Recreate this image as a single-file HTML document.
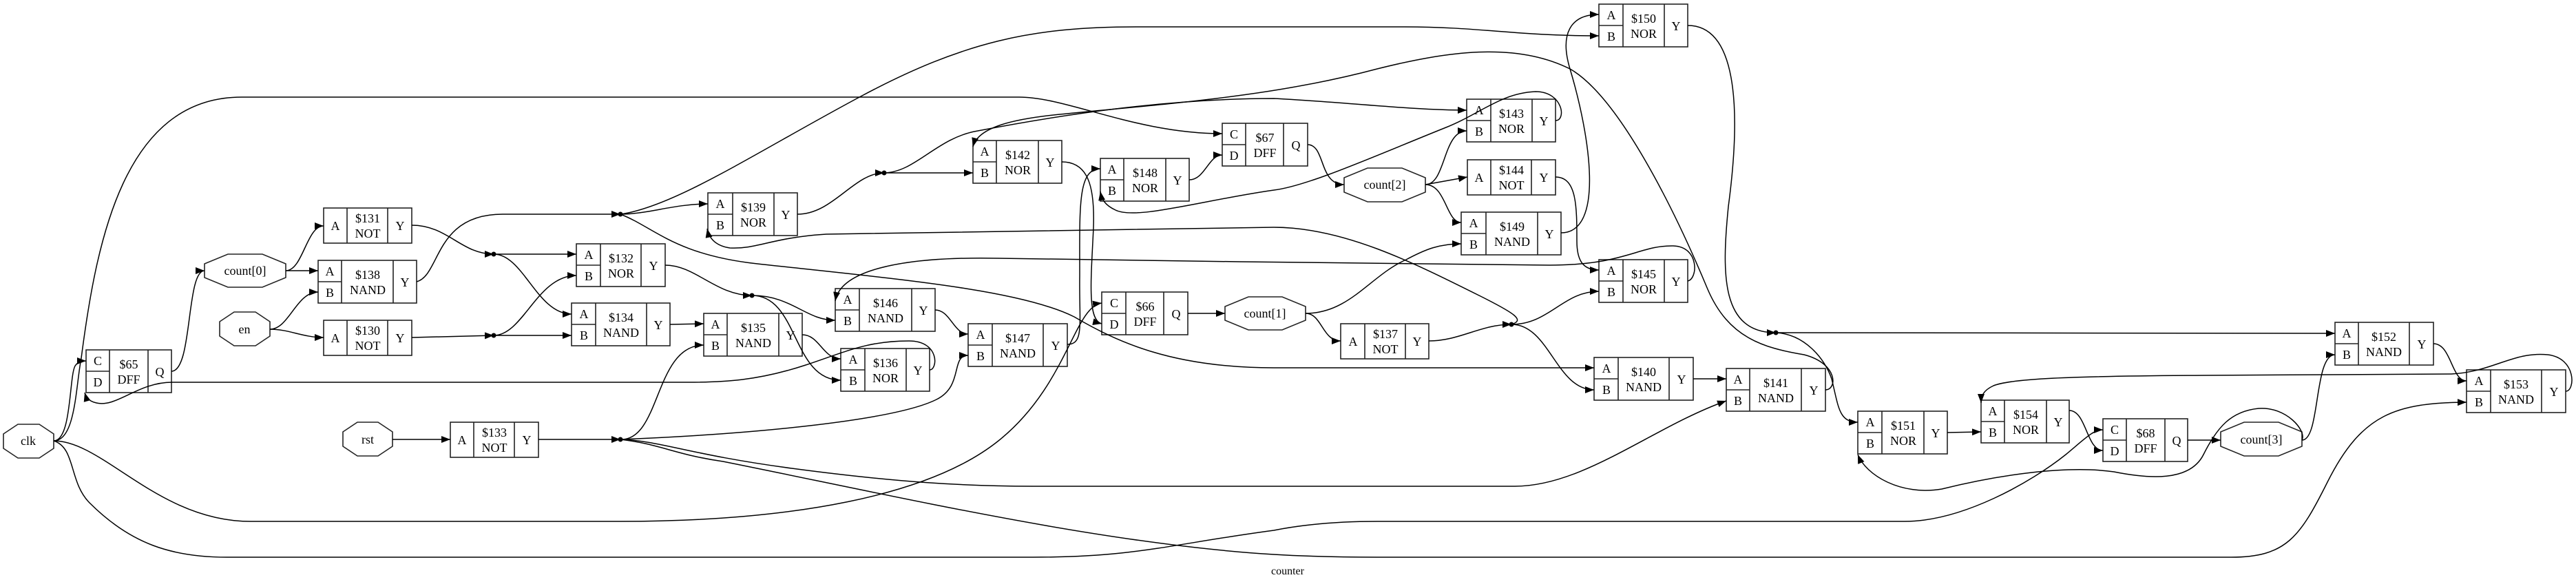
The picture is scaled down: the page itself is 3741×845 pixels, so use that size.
<!DOCTYPE html>
<html><head><meta charset="utf-8"><style>
html,body{margin:0;padding:0;background:#fff;}
svg{display:block;}
text{font-family:"Liberation Serif",serif;font-size:18px;fill:#000;text-anchor:middle;}
.b{fill:none;stroke:#222;stroke-width:1.6;}
.e{fill:none;stroke:#000;stroke-width:1.5;marker-end:url(#ar);}
.n{fill:none;stroke:#000;stroke-width:1.5;}
</style></head><body>
<svg width="3741" height="845" viewBox="0 0 3741 845" xmlns="http://www.w3.org/2000/svg">
<defs><marker id="ar" markerUnits="userSpaceOnUse" markerWidth="14" markerHeight="12" refX="13" refY="5" orient="auto"><path d="M0,0 L13,5 L0,10 Z" fill="#000"/></marker></defs>

<!-- octagons -->
<g class="b">
<polygon points="26,616 57,616 78,630 78,651 57,665 26,665 5,651 5,630"/>
<polygon points="340,453 371,453 392,467 392,488 371,502 340,502 319,488 319,467"/>
<polygon points="519,613 549,613 570,627 570,648 549,662 519,662 498,648 498,627"/>
<polygon points="331,369 381,369 415,383 415,403 381,417 331,417 297,403 297,383"/>
<polygon points="1813,431 1862,431 1896,445 1896,465 1862,479 1813,479 1779,465 1779,445"/>
<polygon points="1986,244 2036,244 2070,258 2070,279 2036,293 1986,293 1952,279 1952,258"/>
<polygon points="3259,613 3309,613 3343,627 3343,648 3309,662 3259,662 3225,648 3225,627"/>
</g>
<text x="41" y="646">clk</text>
<text x="355" y="484">en</text>
<text x="534" y="644">rst</text>
<text x="356" y="399">count[0]</text>
<text x="1837" y="461">count[1]</text>
<text x="2011" y="274">count[2]</text>
<text x="3284" y="644">count[3]</text>

<!-- 2-input gates -->
<g class="b">
<rect x="837" y="354" width="129" height="62"/><path d="M872,354V416M931,354V416M837,385H872"/>
<rect x="830" y="440" width="143" height="62"/><path d="M865,440V502M939,440V502M830,471H865"/>
<rect x="462" y="378" width="143" height="62"/><path d="M496,378V440M571,378V440M462,409H496"/>
<rect x="1028" y="280" width="130" height="62"/><path d="M1064,280V342M1124,280V342M1028,311H1064"/>
<rect x="1022" y="455" width="143" height="62"/><path d="M1056,455V517M1131,455V517M1022,486H1056"/>
<rect x="1213" y="419" width="145" height="62"/><path d="M1248,419V481M1324,419V481M1213,450H1248"/>
<rect x="1221" y="506" width="129" height="62"/><path d="M1256,506V568M1316,506V568M1221,537H1256"/>
<rect x="1406" y="470" width="144" height="62"/><path d="M1441,470V532M1515,470V532M1406,501H1441"/>
<rect x="1413" y="204" width="129" height="62"/><path d="M1447,204V266M1508,204V266M1413,235H1447"/>
<rect x="1598" y="230" width="129" height="62"/><path d="M1632,230V292M1693,230V292M1598,261H1632"/>
<rect x="2130" y="144" width="129" height="62"/><path d="M2165,144V206M2225,144V206M2130,175H2165"/>
<rect x="2122" y="308" width="145" height="62"/><path d="M2158,308V370M2233,308V370M2122,339H2158"/>
<rect x="2322" y="377" width="129" height="62"/><path d="M2357,377V439M2417,377V439M2322,408H2357"/>
<rect x="2322" y="6" width="129" height="62"/><path d="M2357,6V68M2417,6V68M2322,37H2357"/>
<rect x="2315" y="519" width="144" height="62"/><path d="M2350,519V581M2424,519V581M2315,550H2350"/>
<rect x="2507" y="535" width="144" height="62"/><path d="M2541,535V597M2616,535V597M2507,566H2541"/>
<rect x="2698" y="597" width="130" height="62"/><path d="M2733,597V659M2794,597V659M2698,628H2733"/>
<rect x="2877" y="581" width="128" height="62"/><path d="M2911,581V643M2972,581V643M2877,612H2911"/>
<rect x="3391" y="468" width="143" height="62"/><path d="M3425,468V530M3499,468V530M3391,499H3425"/>
<rect x="3582" y="537" width="144" height="62"/><path d="M3617,537V599M3691,537V599M3582,568H3617"/>
<!-- NOT -->
<rect x="470" y="302" width="128" height="51"/><path d="M504,302V353M563,302V353"/>
<rect x="470" y="465" width="128" height="51"/><path d="M504,465V516M563,465V516"/>
<rect x="654" y="613" width="128" height="51"/><path d="M688,613V664M747,613V664"/>
<rect x="2131" y="232" width="128" height="51"/><path d="M2165,232V283M2224,232V283"/>
<rect x="1947" y="470" width="128" height="51"/><path d="M1982,470V521M2041,470V521"/>
<!-- DFF -->
<rect x="125" y="508" width="124" height="62"/><path d="M159,508V570M215,508V570M125,539H159"/>
<rect x="1775" y="179" width="124" height="62"/><path d="M1809,179V241M1864,179V241M1775,210H1809"/>
<rect x="1600" y="424" width="125" height="62"/><path d="M1635,424V486M1690,424V486M1600,455H1635"/>
<rect x="3054" y="608" width="123" height="62"/><path d="M3088,608V670M3144,608V670M3054,639H3088"/>
</g>

<g>
<!-- gate labels: A,B,name,type,Y -->
<text x="855" y="376">A</text><text x="855" y="407">B</text><text x="902" y="381">$132</text><text x="902" y="403">NOR</text><text x="949" y="392">Y</text>
<text x="848" y="462">A</text><text x="848" y="493">B</text><text x="902" y="467">$134</text><text x="902" y="489">NAND</text><text x="956" y="478">Y</text>
<text x="479" y="400">A</text><text x="479" y="431">B</text><text x="534" y="405">$138</text><text x="534" y="427">NAND</text><text x="588" y="416">Y</text>
<text x="1046" y="302">A</text><text x="1046" y="333">B</text><text x="1094" y="307">$139</text><text x="1094" y="329">NOR</text><text x="1141" y="318">Y</text>
<text x="1039" y="477">A</text><text x="1039" y="508">B</text><text x="1094" y="482">$135</text><text x="1094" y="504">NAND</text><text x="1148" y="493">Y</text>
<text x="1231" y="441">A</text><text x="1231" y="472">B</text><text x="1286" y="446">$146</text><text x="1286" y="468">NAND</text><text x="1341" y="457">Y</text>
<text x="1239" y="528">A</text><text x="1239" y="559">B</text><text x="1286" y="533">$136</text><text x="1286" y="555">NOR</text><text x="1333" y="544">Y</text>
<text x="1424" y="492">A</text><text x="1424" y="523">B</text><text x="1478" y="497">$147</text><text x="1478" y="519">NAND</text><text x="1533" y="508">Y</text>
<text x="1430" y="226">A</text><text x="1430" y="257">B</text><text x="1478" y="231">$142</text><text x="1478" y="253">NOR</text><text x="1525" y="242">Y</text>
<text x="1615" y="252">A</text><text x="1615" y="283">B</text><text x="1663" y="257">$148</text><text x="1663" y="279">NOR</text><text x="1710" y="268">Y</text>
<text x="2148" y="166">A</text><text x="2148" y="197">B</text><text x="2195" y="171">$143</text><text x="2195" y="193">NOR</text><text x="2242" y="182">Y</text>
<text x="2140" y="330">A</text><text x="2140" y="361">B</text><text x="2196" y="335">$149</text><text x="2196" y="357">NAND</text><text x="2250" y="346">Y</text>
<text x="2340" y="399">A</text><text x="2340" y="430">B</text><text x="2387" y="404">$145</text><text x="2387" y="426">NOR</text><text x="2434" y="415">Y</text>
<text x="2340" y="28">A</text><text x="2340" y="59">B</text><text x="2387" y="33">$150</text><text x="2387" y="55">NOR</text><text x="2434" y="44">Y</text>
<text x="2333" y="541">A</text><text x="2333" y="572">B</text><text x="2387" y="546">$140</text><text x="2387" y="568">NAND</text><text x="2442" y="557">Y</text>
<text x="2524" y="557">A</text><text x="2524" y="588">B</text><text x="2579" y="562">$141</text><text x="2579" y="584">NAND</text><text x="2634" y="573">Y</text>
<text x="2716" y="619">A</text><text x="2716" y="650">B</text><text x="2764" y="624">$151</text><text x="2764" y="646">NOR</text><text x="2811" y="635">Y</text>
<text x="2894" y="603">A</text><text x="2894" y="634">B</text><text x="2942" y="608">$154</text><text x="2942" y="630">NOR</text><text x="2989" y="619">Y</text>
<text x="3408" y="490">A</text><text x="3408" y="521">B</text><text x="3462" y="495">$152</text><text x="3462" y="517">NAND</text><text x="3517" y="506">Y</text>
<text x="3600" y="559">A</text><text x="3600" y="590">B</text><text x="3654" y="564">$153</text><text x="3654" y="586">NAND</text><text x="3709" y="575">Y</text>
<!-- NOT labels -->
<text x="487" y="334">A</text><text x="534" y="323">$131</text><text x="534" y="345">NOT</text><text x="581" y="334">Y</text>
<text x="487" y="497">A</text><text x="534" y="486">$130</text><text x="534" y="508">NOT</text><text x="581" y="497">Y</text>
<text x="671" y="645">A</text><text x="718" y="634">$133</text><text x="718" y="656">NOT</text><text x="765" y="645">Y</text>
<text x="2148" y="264">A</text><text x="2195" y="253">$144</text><text x="2195" y="275">NOT</text><text x="2242" y="264">Y</text>
<text x="1965" y="502">A</text><text x="2012" y="491">$137</text><text x="2012" y="513">NOT</text><text x="2058" y="502">Y</text>
<!-- DFF labels -->
<text x="142" y="530">C</text><text x="142" y="561">D</text><text x="187" y="535">$65</text><text x="187" y="557">DFF</text><text x="232" y="546">Q</text>
<text x="1792" y="201">C</text><text x="1792" y="232">D</text><text x="1837" y="206">$67</text><text x="1837" y="228">DFF</text><text x="1882" y="217">Q</text>
<text x="1618" y="446">C</text><text x="1618" y="477">D</text><text x="1663" y="451">$66</text><text x="1663" y="473">DFF</text><text x="1708" y="462">Q</text>
<text x="3071" y="630">C</text><text x="3071" y="661">D</text><text x="3116" y="635">$68</text><text x="3116" y="657">DFF</text><text x="3161" y="646">Q</text>
<text x="1870" y="834" style="font-size:16px">counter</text>
</g>

<!-- dots -->
<g fill="#000">
<circle cx="717" cy="369" r="3.5"/><circle cx="717" cy="487" r="3.5"/>
<circle cx="901" cy="311" r="3.5"/><circle cx="901" cy="638" r="3.5"/>
<circle cx="1092" cy="429" r="3.5"/><circle cx="1284" cy="251" r="3.5"/>
<circle cx="2195" cy="471" r="3.5"/><circle cx="2579" cy="483" r="3.5"/>
</g>

<!-- edges -->
<path class="e" d="M415,393 C440,393 445,328 470,328"/>
<path class="e" d="M415,393 L462,393"/>
<path class="e" d="M392,478 C420,478 430,424 462,424"/>
<path class="e" d="M392,478 C420,478 440,490 470,490"/>
<path class="e" d="M249,539 C280,539 270,393 297,393"/>
<path class="e" d="M598,327 C650,327 670,369 717,369"/>
<path class="e" d="M598,490 L717,487"/>
<path class="e" d="M717,369 L837,369"/>
<path class="e" d="M717,369 C760,369 780,456 830,456"/>
<path class="e" d="M717,487 C760,487 780,400 837,400"/>
<path class="e" d="M717,487 L830,487"/>
<path class="e" d="M605,409 C640,400 630,311 730,311 L901,311"/>
<path class="e" d="M570,638 L654,638"/>
<path class="e" d="M782,638 L901,638"/>
<path class="e" d="M1350,537 C1362,537 1365,495 1320,495 C1260,495 1230,510 1170,530 C1100,553 1050,555 1000,555 L250,555 C200,555 170,592 140,585 C130,583 125,577 123,570"/>
<path class="e" d="M901,311 C940,311 980,296 1028,296"/>
<path class="e" d="M901,311 C980,300 1100,220 1250,140 C1400,60 1500,39 1650,39 L2040,39 C2150,39 2200,52 2322,52"/>
<path class="e" d="M901,311 C950,330 980,370 1100,383 C1300,405 1480,420 1560,460 C1620,495 1700,534 1850,534 L2315,534"/>
<path class="e" d="M1158,311 C1210,311 1240,251 1284,251"/>
<path class="e" d="M1284,251 L1413,251"/>
<path class="e" d="M1284,251 C1330,250 1360,200 1420,190 C1550,165 1700,143 1850,143 C1950,148 2050,160 2130,160"/>
<path class="e" d="M2651,566 C2668,566 2670,528 2620,515 C2560,505 2510,490 2480,420 C2430,300 2350,140 2280,100 C2200,60 2100,75 2000,100 C1850,140 1700,150 1550,165 C1470,172 1420,185 1413,213"/>
<path class="e" d="M966,385 C1010,385 1040,429 1092,429"/>
<path class="e" d="M1092,429 C1150,429 1170,465 1213,465"/>
<path class="e" d="M1092,429 C1160,429 1150,552 1221,552"/>
<path class="e" d="M973,471 L1022,470"/>
<path class="e" d="M1165,486 C1190,486 1195,521 1221,521"/>
<path class="e" d="M1358,450 C1380,450 1385,485 1406,485"/>
<path class="e" d="M2451,408 C2466,405 2468,358 2430,357 C2380,356 2360,385 2250,385 L1800,380 L1450,375 C1300,372 1220,395 1213,437"/>
<path class="e" d="M2195,471 C2215,465 2200,455 2150,430 C2050,380 1950,330 1850,330 L1200,340 C1120,345 1100,362 1060,360 C1040,357 1030,347 1027,332"/>
<path class="e" d="M1542,235 C1580,235 1590,270 1588,330 C1585,400 1578,465 1600,470"/>
<path class="e" d="M1550,500 C1575,500 1567,470 1568,400 C1568,300 1565,245 1598,245"/>
<path class="e" d="M1727,261 C1750,261 1755,225 1775,225"/>
<path class="e" d="M2259,175 C2275,175 2270,133 2230,133 C2180,135 2150,165 2100,185 C2000,225 1900,270 1850,276 C1750,290 1650,320 1620,305 C1605,298 1600,290 1598,278"/>
<path class="e" d="M1899,210 C1925,210 1915,268 1952,268"/>
<path class="e" d="M1725,455 L1779,455"/>
<path class="e" d="M2070,268 C2100,268 2095,190 2130,190"/>
<path class="e" d="M2070,268 L2131,257"/>
<path class="e" d="M2070,268 C2100,268 2100,323 2122,323"/>
<path class="e" d="M1896,455 C1960,455 1990,400 2042,377 C2070,362 2090,354 2122,354"/>
<path class="e" d="M1896,455 C1920,455 1920,495 1947,495"/>
<path class="e" d="M2075,495 C2120,495 2150,471 2195,471"/>
<path class="e" d="M2195,471 C2250,471 2270,423 2322,423"/>
<path class="e" d="M2195,471 C2250,471 2260,566 2315,566"/>
<path class="e" d="M2259,257 C2290,257 2290,300 2290,350 C2290,380 2300,392 2322,392"/>
<path class="e" d="M2267,338 C2330,338 2310,200 2280,100 C2265,50 2280,21 2322,21"/>
<path class="e" d="M2451,37 C2520,37 2530,150 2510,300 C2500,400 2500,483 2579,483"/>
<path class="e" d="M2579,483 L3391,484"/>
<path class="e" d="M2579,483 C2620,485 2650,520 2660,550 C2670,590 2670,613 2698,613"/>
<path class="e" d="M2459,550 L2507,550"/>
<path class="e" d="M901,638 C960,640 1000,660 1150,680 C1300,700 1400,706 1500,706 L2200,706 C2300,706 2400,620 2507,582"/>
<path class="e" d="M901,638 C960,645 980,660 1050,670 C1300,720 1600,790 1850,805 C1900,808 1950,809 2000,809 L3240,809 C3320,809 3340,780 3380,700 C3430,600 3480,585 3582,584"/>
<path class="e" d="M901,638 C960,640 950,501 1022,501"/>
<path class="e" d="M901,638 C1100,630 1300,610 1360,580 C1400,560 1380,516 1406,516"/>
<path class="e" d="M78,640 C150,640 230,757 364,757 L900,757 C1150,757 1350,720 1450,640 C1550,560 1560,445 1600,440"/>
<path class="e" d="M78,640 C110,650 100,700 130,730 C190,790 250,809 330,809 L1500,809 C1650,809 1700,790 1850,770 C1900,760 1950,757 2000,757 L2766,757 C2850,757 2950,700 3000,660 C3030,635 3040,624 3054,624"/>
<path class="e" d="M78,640 C110,640 110,560 118,520 C140,350 180,141 351,141 L1480,141 C1550,141 1650,194 1775,194"/>
<path class="e" d="M78,640 C105,640 100,540 110,530 C113,526 118,524 125,524"/>
<path class="e" d="M2828,628 L2877,627"/>
<path class="e" d="M3005,596 C3030,596 3030,654 3054,654"/>
<path class="e" d="M3177,639 L3225,639"/>
<path class="e" d="M3343,639 C3370,639 3360,515 3391,515"/>
<path class="e" d="M3534,499 C3560,499 3560,553 3582,553"/>
<path class="e" d="M3726,568 C3740,568 3742,520 3700,515 C3650,510 3620,540 3560,543 L3200,545 C3000,546 2920,550 2895,560 C2880,567 2877,575 2877,585"/>
<path class="e" d="M3343,639 C3350,625 3320,590 3280,593 C3240,597 3220,620 3200,660 C3180,700 3120,695 3070,685 C3000,675 2900,690 2820,710 C2760,720 2710,690 2698,660"/>
</svg>
</body></html>
